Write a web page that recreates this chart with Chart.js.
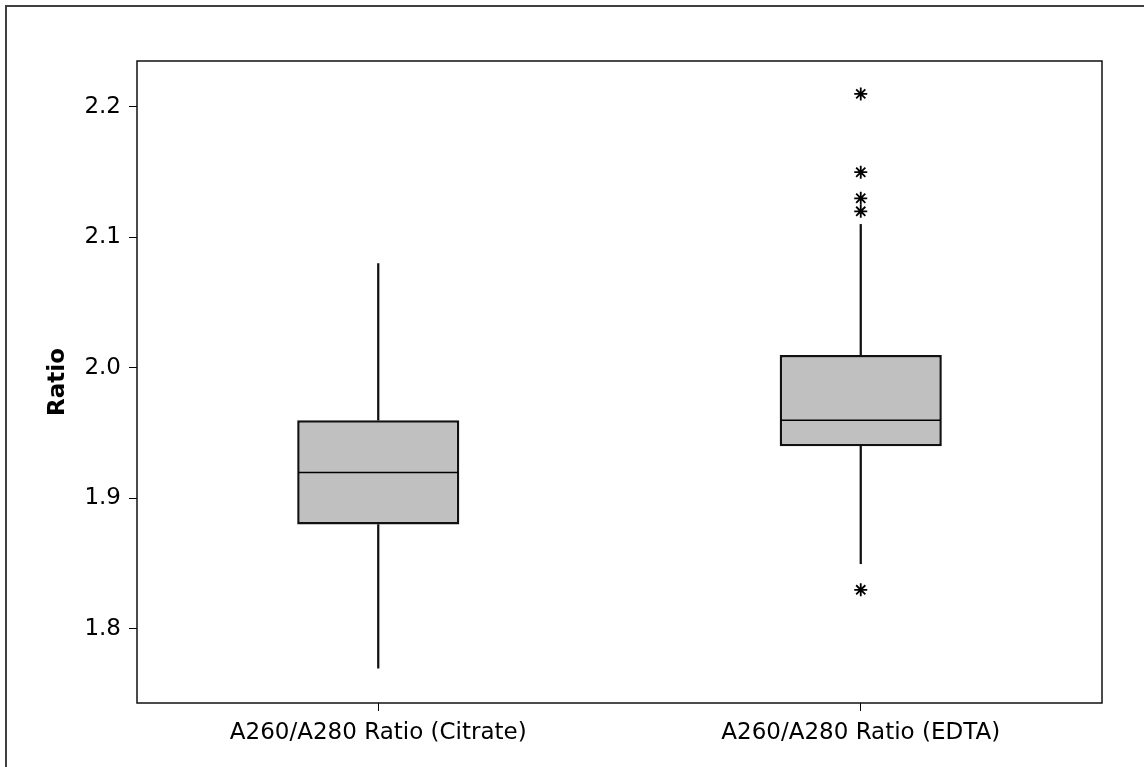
<!DOCTYPE html>
<html>
<head>
<meta charset="utf-8">
<script src="https://cdn.jsdelivr.net/npm/chart.js@4/dist/chart.umd.min.js"></script>
<style>
  html, body { margin: 0; padding: 0; background: #fff; overflow: hidden; }
  #wrap { position: relative; width: 1144px; height: 767px; }
  #frame { position: absolute; left: 5px; top: 5px; width: 1200px; height: 900px;
           border-left: 2px solid #404040; border-top: 2px solid #404040; box-sizing: border-box; }
  canvas { position: absolute; left: 0; top: 0; }
</style>
</head>
<body>
<div id="wrap">
  <div id="frame"></div>
  <canvas id="c" width="1144" height="767"></canvas>
</div>
<script>
const categories = ['A260/A280 Ratio (Citrate)', 'A260/A280 Ratio (EDTA)'];
const whiskerLow  = [1.77, 1.85];
const q1          = [1.88, 1.94];
const median      = [1.92, 1.96];
const q3          = [1.96, 2.01];
const whiskerHigh = [2.08, 2.11];
const outlierCategory = ['A260/A280 Ratio (EDTA)', 'A260/A280 Ratio (EDTA)', 'A260/A280 Ratio (EDTA)', 'A260/A280 Ratio (EDTA)', 'A260/A280 Ratio (EDTA)'];
const outlierValues   = [2.21, 2.15, 2.13, 2.12, 1.83];
const yTicks = [1.8, 1.9, 2.0, 2.1, 2.2];
const yMin = 1.7433, yMax = 2.2352;
const yTitle = 'Ratio';

const FONT = "'DejaVu Sans', Verdana, sans-serif";

const boxData = categories.map((c, i) => [q1[i], q3[i]]);
const upperWhisker = categories.map((c, i) => [q3[i], whiskerHigh[i]]);
const lowerWhisker = categories.map((c, i) => [whiskerLow[i], q1[i]]);
const outliers = outlierValues.map((v, i) => ({ x: outlierCategory[i], y: v }));

const boxPlugin = {
  id: 'boxExtras',
  afterDatasetsDraw(chart) {
    const ctx = chart.ctx;
    const y = chart.scales.y;
    const meta = chart.getDatasetMeta(0);
    ctx.save();
    ctx.strokeStyle = '#000';
    ctx.lineWidth = 1.5;
    meta.data.forEach((el, i) => {
      const py = y.getPixelForValue(median[i]);
      ctx.beginPath();
      ctx.moveTo(el.x - el.width / 2 + 1, py);
      ctx.lineTo(el.x + el.width / 2 - 1, py);
      ctx.stroke();
    });
    const a = chart.chartArea;
    ctx.lineWidth = 1.5;
    ctx.strokeStyle = '#111';
    ctx.strokeRect(a.left, a.top, a.right - a.left, a.bottom - a.top);
    ctx.restore();
  }
};

new Chart(document.getElementById('c'), {
  type: 'bar',
  data: {
    labels: categories,
    datasets: [
      { label: 'box', data: boxData, backgroundColor: '#c0c0c0', borderColor: '#111', borderWidth: 2.5,
        borderSkipped: false, grouped: false, categoryPercentage: 1, barPercentage: 0.336, order: 1 },
      { label: 'upper', data: upperWhisker, backgroundColor: '#111', barThickness: 1.6, grouped: false, order: 2 },
      { label: 'lower', data: lowerWhisker, backgroundColor: '#111', barThickness: 1.6, grouped: false, order: 2 },
      { type: 'scatter', label: 'outliers', data: outliers, pointStyle: 'star', radius: 6.5,
        borderColor: '#000', backgroundColor: '#000', borderWidth: 1.8, order: 0 }
    ]
  },
  options: {
    responsive: false,
    animation: false,
    events: [],
    layout: { padding: { left: 0, top: 61, right: 42, bottom: 0 } },
    plugins: { legend: { display: false }, tooltip: { enabled: false } },
    scales: {
      x: {
        type: 'category',
        offset: true,
        border: { display: false },
        grid: { offset: false, drawOnChartArea: false, drawTicks: true, tickLength: 8, color: '#000', lineWidth: 1 },
        ticks: { color: '#000', font: { family: FONT, size: 23 }, padding: 8, maxRotation: 0 },
        afterFit(scale) { scale.height = 64; }
      },
      y: {
        type: 'linear',
        min: yMin, max: yMax,
        border: { display: false },
        grid: { drawOnChartArea: false, drawTicks: true, tickLength: 8, color: '#000', lineWidth: 1 },
        ticks: { color: '#000', font: { family: FONT, size: 23 }, padding: 8, includeBounds: false,
                 callback: (v) => Number(v).toFixed(1) },
        afterBuildTicks(scale) { scale.ticks = yTicks.map(v => ({ value: v })); },
        title: { display: true, text: yTitle, color: '#000', font: { family: FONT, size: 23, weight: 'bold' },
                 padding: { top: 44, bottom: 0 } },
        afterFit(scale) { scale.width = 137; }
      }
    }
  },
  plugins: [boxPlugin]
});
</script>
</body>
</html>
